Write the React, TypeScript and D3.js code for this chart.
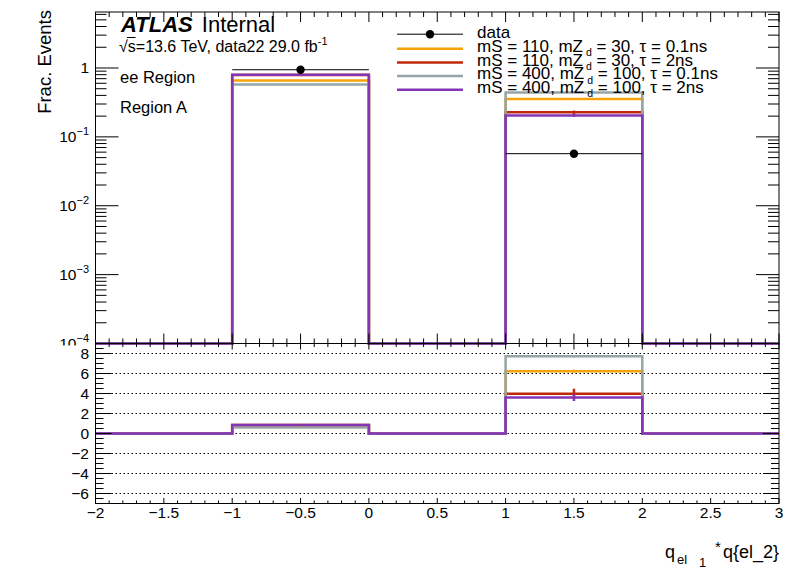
import React from "react";
import * as d3 from "d3";

// bins of q_el1 * q_el2
const binEdges = [-2, -1, 0, 1, 2, 3];
const dataFrac = [0, 0.943, 0, 0.057, 0];

// signal fractions per bin
const sig110_01 = [0, 0.66, 0, 0.355, 0];
const sig110_2 = [0, 0.79, 0, 0.227, 0];
const sig400_01 = [0, 0.575, 0, 0.44, 0];
const sig400_2 = [0, 0.80, 0, 0.205, 0];

// stat errors (top panel) and ratio errors (bottom panel)
const err110_01 = [0, 0.004, 0, 0.006, 0];
const err110_2 = [0, 0.012, 0, 0.014, 0];
const err400_01 = [0, 0.003, 0, 0.004, 0];
const err400_2 = [0, 0.008, 0, 0.01, 0];
const rerr110_01 = [0, 0.02, 0, 0.15, 0];
const rerr110_2 = [0, 0.03, 0, 0.5, 0];
const rerr400_01 = [0, 0.02, 0, 0.1, 0];
const rerr400_2 = [0, 0.03, 0, 0.35, 0];

const massS = [110, 110, 400, 400];
const massZd = [30, 30, 100, 100];
const lifetimes = ["0.1ns", "2ns", "0.1ns", "2ns"];
const colors = ["#f8a20b", "#c0280b", "#96a5a6", "#8236b6"];

const signals = [sig110_01, sig110_2, sig400_01, sig400_2];
const sigErrs = [err110_01, err110_2, err400_01, err400_2];
const ratioErrs = [rerr110_01, rerr110_2, rerr400_01, rerr400_2];

const xMajor = d3.range(-2, 3.0001, 0.5);
const xMinor = d3.range(-2, 3.0001, 0.1);
const rMajor = [-6, -4, -2, 0, 2, 4, 6, 8];
const rMinor = d3.range(-7, 9.0001, 0.5);
const logMajor = [-4, -3, -2, -1, 0];

const L = 95.5, R = 779, T = 12, B = 343.5;
const B2 = 503.5;

const FONT = "'Liberation Sans', Arial, Helvetica, sans-serif";

const fmtX = (v: number) => {
  const a = Math.abs(+v.toFixed(1));
  return (v < -1e-9 ? "\u2212" : "") + String(a);
};

export default function App() {
  const x = d3.scaleLinear().domain([-2, 3]).range([L, R]);
  const yTop = d3.scaleLog().domain([1e-4, 6.5]).range([B, T]);
  const yBot = d3.scaleLinear().domain([-7, 9]).range([B2, B]);

  const topY = (v: number) => (v > 0 ? yTop(v) : B);

  const stepPath = (vals: number[], yf: (v: number) => number) => {
    let p = "";
    vals.forEach((v, i) => {
      const yy = yf(v);
      p += (i === 0 ? "M" : "L") + x(binEdges[i]) + "," + yy + "L" + x(binEdges[i + 1]) + "," + yy;
    });
    return p;
  };

  const ratios = signals.map((s) => s.map((v, i) => (dataFrac[i] > 0 ? v / dataFrac[i] : 0)));
  const centers = binEdges.slice(0, -1).map((e, i) => (e + binEdges[i + 1]) / 2);

  const logMinor: number[] = [];
  logMajor.forEach((k) => {
    for (let m = 2; m <= 9; m++) {
      const v = m * Math.pow(10, k);
      if (v <= 6.5) logMinor.push(v);
    }
  });

  const legendRows = [37.5, 51.7, 65.5, 79, 92.8];

  return (
    <svg width={796} height={572} style={{ position: "absolute", left: 0, top: 0, fontFamily: FONT }}>
      <rect width={796} height={572} fill="white" />

      {/* top panel histograms */}
      {signals.map((s, k) => (
        <path key={"h" + k} d={stepPath(s, topY)} fill="none" stroke={colors[k]} strokeWidth={2.5} />
      ))}
      {signals.map((s, k) =>
        s.map((v, i) =>
          v > 0 ? (
            <line key={"e" + k + i} x1={x(centers[i])} x2={x(centers[i])}
              y1={yTop(v + sigErrs[k][i])} y2={yTop(v - sigErrs[k][i])}
              stroke={colors[k]} strokeWidth={2.5} />
          ) : null
        )
      )}
      {dataFrac.map((v, i) =>
        v > 0 ? (
          <g key={"d" + i}>
            <line x1={x(binEdges[i])} x2={x(binEdges[i + 1])} y1={yTop(v)} y2={yTop(v)} stroke="black" strokeWidth={1} />
            <circle cx={x(centers[i])} cy={yTop(v)} r={4.2} fill="black" />
          </g>
        ) : null
      )}

      {/* top frame and ticks */}
      <rect x={L} y={T} width={R - L} height={B - T} fill="none" stroke="black" strokeWidth={1} />
      {xMinor.map((v, i) => {
        const maj = xMajor.some((m) => Math.abs(m - v) < 1e-6);
        const len = maj ? 10 : 5;
        return (
          <g key={"xt" + i}>
            <line x1={x(v)} x2={x(v)} y1={T} y2={T + len} stroke="black" />
            <line x1={x(v)} x2={x(v)} y1={B} y2={B - len} stroke="black" />
          </g>
        );
      })}
      {[...logMajor.map((k) => ({ v: Math.pow(10, k), len: 23 })), ...logMinor.map((v) => ({ v, len: 11 }))].map((t, i) => (
        <g key={"yt" + i}>
          <line x1={L} x2={L + t.len} y1={yTop(t.v)} y2={yTop(t.v)} stroke="black" />
          <line x1={R} x2={R - t.len} y1={yTop(t.v)} y2={yTop(t.v)} stroke="black" />
        </g>
      ))}
      {logMajor.map((k) =>
        k === 0 ? (
          <text key={"yl" + k} x={89} y={yTop(1) + 5.5} textAnchor="end" fontSize={15.5}>1</text>
        ) : (
          <text key={"yl" + k} x={89} y={yTop(Math.pow(10, k)) + 5.5} textAnchor="end" fontSize={15.5}>
            10<tspan fontSize={11} dy={-7}>{"\u2212" + -k}</tspan>
          </text>
        )
      )}

      {/* labels */}
      <text x={121} y={31.5} fontSize={22}>
        <tspan fontWeight="bold" fontStyle="italic">ATLAS</tspan>
        <tspan dx={3}> Internal</tspan>
      </text>
      <text x={119} y={51.5} fontSize={16}>
        {"\u221A"}s=13.6 TeV, data22 29.0 fb<tspan fontSize={11} dy={-7}>-1</tspan>
      </text>
      <line x1={127} x2={135.5} y1={37.5} y2={37.5} stroke="black" strokeWidth={1} />
      <text x={120} y={83.3} fontSize={16.5}>ee Region</text>
      <text x={120} y={113.3} fontSize={16.5}>Region A</text>

      {/* legend */}
      <line x1={397} x2={463} y1={legendRows[0] - 3.3} y2={legendRows[0] - 3.3} stroke="black" strokeWidth={1} />
      <circle cx={430} cy={legendRows[0] - 3.3} r={4.2} fill="black" />
      <text x={477} y={legendRows[0]} fontSize={17}>data</text>
      {massS.map((m, k) => (
        <g key={"lg" + k}>
          <line x1={397} x2={463} y1={legendRows[k + 1] - 3} y2={legendRows[k + 1] - 3} stroke={colors[k]} strokeWidth={2.5} />
          <text x={477} y={legendRows[k + 1]} fontSize={17}>
            mS = {m}, mZ<tspan fontSize={10.5} dx={3} dy={4.5}>d</tspan>
            <tspan dy={-4.5}>{" = " + massZd[k] + ", \u03C4 = " + lifetimes[k]}</tspan>
          </text>
        </g>
      ))}

      <text transform={`translate(51,10) rotate(-90)`} textAnchor="end" fontSize={18.5}>Frac. Events</text>

      {/* bottom pad */}
      <rect x={0} y={345.5} width={796} height={572 - 345.5} fill="white" />
      {rMajor.map((v) => (
        <line key={"g" + v} x1={L} x2={R} y1={yBot(v)} y2={yBot(v)} stroke="black" strokeWidth={1} strokeDasharray="1.5,2.5" />
      ))}
      {ratios.map((r, k) => (
        <path key={"r" + k} d={stepPath(r, yBot)} fill="none" stroke={colors[k]} strokeWidth={2.5} />
      ))}
      {ratios.map((r, k) =>
        r.map((v, i) =>
          v > 0 ? (
            <line key={"re" + k + i} x1={x(centers[i])} x2={x(centers[i])}
              y1={yBot(v + ratioErrs[k][i])} y2={yBot(v - ratioErrs[k][i])}
              stroke={colors[k]} strokeWidth={2.5} />
          ) : null
        )
      )}
      <rect x={L} y={B} width={R - L} height={B2 - B} fill="none" stroke="black" strokeWidth={1} />
      {xMinor.map((v, i) => {
        const maj = xMajor.some((m) => Math.abs(m - v) < 1e-6);
        return (
          <g key={"bxt" + i}>
            <line x1={x(v)} x2={x(v)} y1={B} y2={B + (maj ? 6 : 3.5)} stroke="black" />
            <line x1={x(v)} x2={x(v)} y1={B2} y2={B2 - (maj ? 5.5 : 3)} stroke="black" />
          </g>
        );
      })}
      {rMinor.map((v, i) => {
        const maj = rMajor.includes(v);
        const len = maj ? 16 : 8;
        return (
          <g key={"byt" + i}>
            <line x1={L} x2={L + len} y1={yBot(v)} y2={yBot(v)} stroke="black" />
            <line x1={R} x2={R - len} y1={yBot(v)} y2={yBot(v)} stroke="black" />
          </g>
        );
      })}
      {rMajor.map((v) => (
        <text key={"bl" + v} x={89} y={yBot(v) + 5.5} textAnchor="end" fontSize={15.5}>
          {fmtX(v)}
        </text>
      ))}
      {xMajor.map((v) => (
        <text key={"xl" + v} x={x(v)} y={517.5} textAnchor="middle" fontSize={15.5}>
          {fmtX(v)}
        </text>
      ))}

      {/* x title: q_{el_1}*q{el_2} */}
      <g fontSize={18}>
        <text x={665} y={558}>q</text>
        <text x={677} y={564} fontSize={13}>el</text>
        <text x={699} y={567} fontSize={13}>1</text>
        <text x={715} y={552} fontSize={15}>*</text>
        <text x={779} y={558} textAnchor="end">q{"{el_2}"}</text>
      </g>
    </svg>
  );
}
